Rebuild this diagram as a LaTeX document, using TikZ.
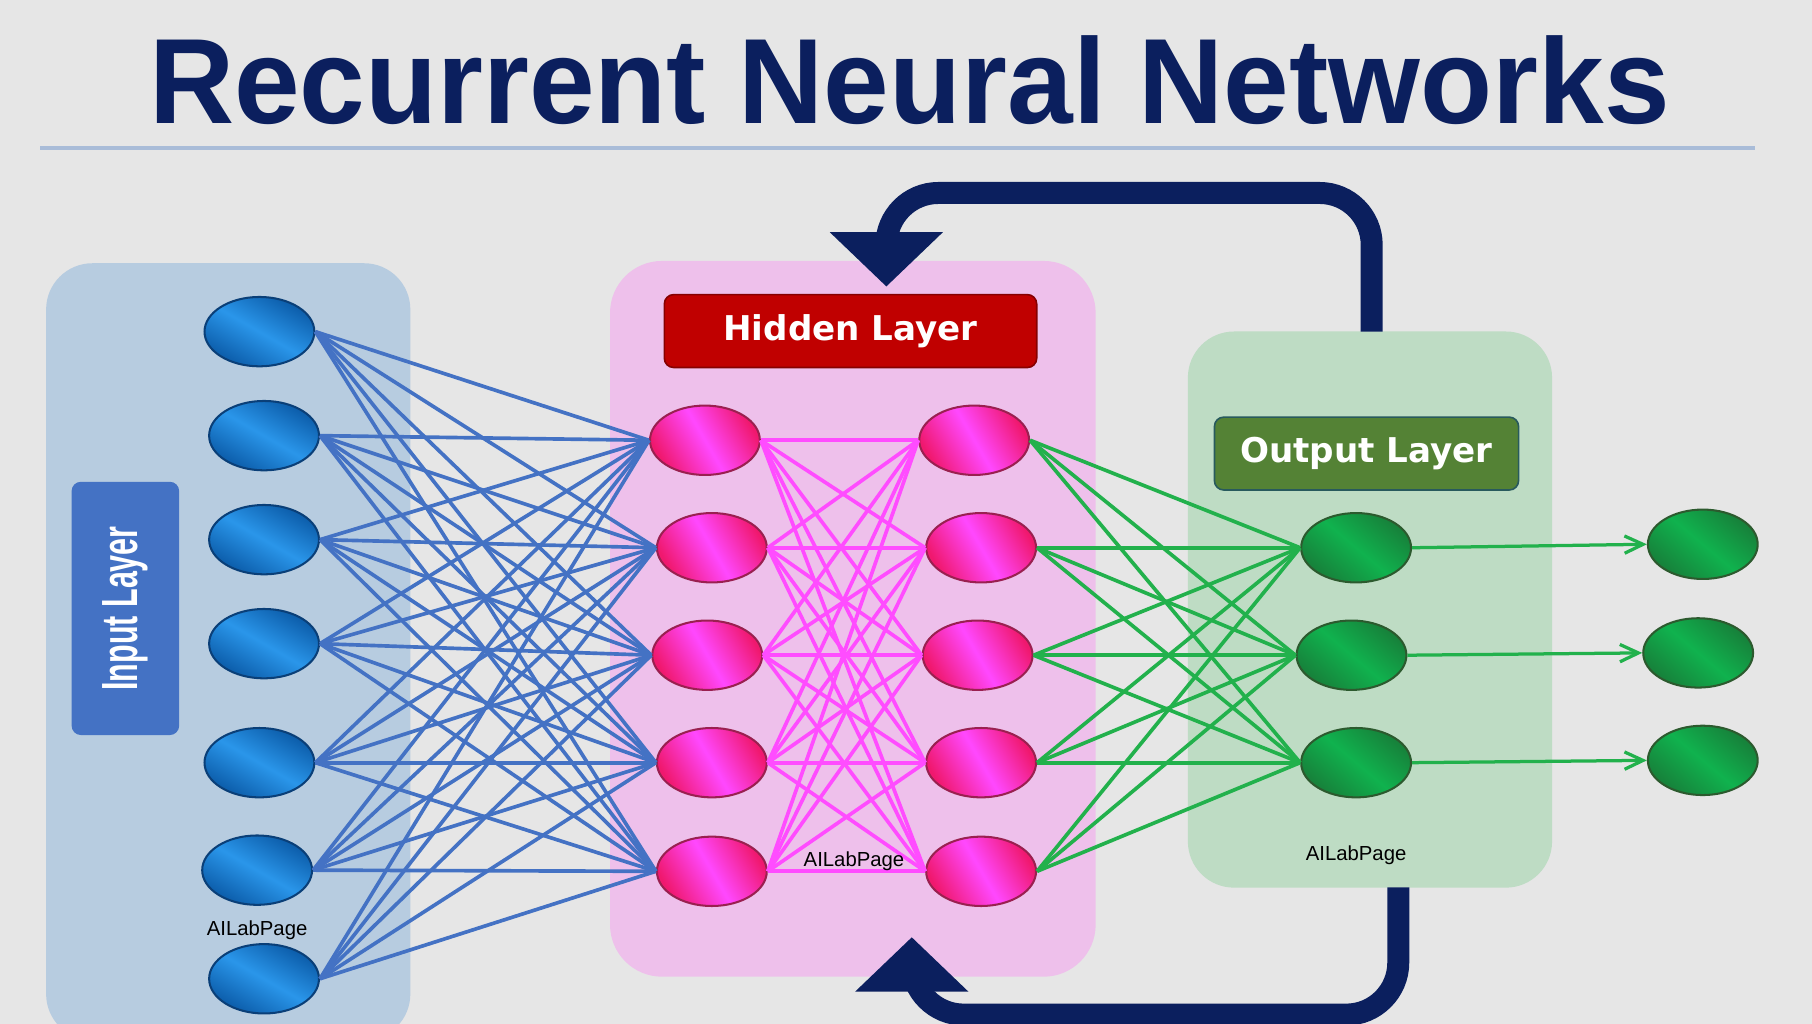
\documentclass[tikz,border=0pt]{standalone}
\usepackage{fontspec}
\setmainfont{Liberation Sans}
\newfontfamily\boxfont{DejaVu Sans}
\usetikzlibrary{arrows.meta,positioning,calc,shapes.geometric}
\definecolor{bgcol}{HTML}{E6E6E6}
\definecolor{navy}{HTML}{0B1F5E}
\definecolor{rulecol}{HTML}{A9BCD8}
\definecolor{inpanelcol}{HTML}{B7CCE0}
\definecolor{hidpanelcol}{HTML}{EEC0EB}
\definecolor{outpanelcol}{HTML}{BEDCC4}
\definecolor{inlabcol}{HTML}{4472C4}
\definecolor{hidlabcol}{HTML}{C00000}
\definecolor{outlabcol}{HTML}{548235}
\definecolor{bluewire}{HTML}{4472C4}
\definecolor{pinkwire}{HTML}{FF4CFF}
\definecolor{greenwire}{HTML}{22B14C}
\definecolor{blueDk}{HTML}{0B5BA8}
\definecolor{blueLt}{HTML}{2A96EA}
\definecolor{blueEdge}{HTML}{0A3F78}
\definecolor{pinkDk}{HTML}{F0186E}
\definecolor{pinkLt}{HTML}{FF48FF}
\definecolor{pinkEdge}{HTML}{9A2050}
\definecolor{greenDk}{HTML}{17803A}
\definecolor{greenLt}{HTML}{10B24E}
\definecolor{greenEdge}{HTML}{2C5A2E}

\begin{document}
\begin{tikzpicture}[
  x=0.01cm, y=-0.01cm,
  ball/.style={ellipse,minimum width=0.95cm,minimum height=0.6cm,inner sep=0pt,line width=0.5pt},
  inball/.style={ball,draw=blueEdge,top color=blueDk,bottom color=blueDk,middle color=blueLt,shading angle=-30},
  hidball/.style={ball,draw=pinkEdge,top color=pinkDk,bottom color=pinkDk,middle color=pinkLt,shading angle=-60},
  outball/.style={ball,draw=greenEdge,top color=greenDk,bottom color=greenDk,middle color=greenLt,shading angle=-40},
  panel/.style={rounded corners=0.4cm,inner sep=0pt},
  labbox/.style={rounded corners=0.08cm,text=white,inner sep=0pt},
  wire/.style={line width=0.9pt},
  fb/.style={draw=navy,line width=0.19cm,rounded corners=0.45cm,-{Triangle[width=0.95cm,length=0.47cm]}},
  outarr/.style={draw=greenwire,line width=0.8pt,-{Straight Barb[length=0.16cm,width=0.15cm]}},
  wm/.style={font=\fontsize{5}{6}\selectfont,text=black,inner sep=0pt}
]
  \clip (0,0) rectangle (1568,886);
  \fill[bgcol] (0,0) rectangle (1568,886);

  \node[text=navy,anchor=base,inner sep=0pt] (title) at (787,107)
    {\resizebox{13.15cm}{0.76cm}{\bfseries Recurrent Neural Networks}};
  \draw[rulecol,line width=1pt] (35,128) -- (1519,128);

  % layer panels
  \node[panel,fill=inpanelcol,minimum width=3.15cm,minimum height=6.72cm] (inpanel) at (197.5,564) {};
  \node[panel,rounded corners=0.45cm,fill=hidpanelcol,minimum width=4.2cm,minimum height=6.19cm] (hidpanel) at (738,535.5) {};
  \node[panel,fill=outpanelcol,minimum width=3.15cm,minimum height=4.81cm] (outpanel) at (1185.5,527.5) {};

  % recurrent loops
  \coordinate (fbout1) at (1187,287);
  \coordinate (fbin1) at (767,248);
  \coordinate (fbout2) at (1210,768);
  \coordinate (fbin2) at (789,811);
  \draw[fb] (fbout1) -- ++(0,-120) -| (fbin1);
  \draw[fb] (fbout2) -- ++(0,110) -| (fbin2);

  \node[labbox,fill=inlabcol,rotate=90,minimum width=2.19cm,minimum height=0.93cm,
        font=\bfseries\fontsize{12.5}{14}\selectfont] (inlab) at (108.5,526.5) {\scalebox{0.6}[1]{Input Layer}};
  \node[labbox,fill=hidlabcol,draw=hidlabcol!70!black,minimum width=3.22cm,minimum height=0.63cm,
        font=\boxfont\bfseries\fontsize{8.4}{10}\selectfont] (hidlab) at (736,286.5) {Hidden Layer};
  \node[labbox,fill=outlabcol,draw=blueEdge!60!outlabcol,minimum width=2.63cm,minimum height=0.63cm,
        font=\boxfont\bfseries\fontsize{8.4}{10}\selectfont] (outlab) at (1182.5,392.5) {Output Layer};

  % neurons
  \foreach \x/\y [count=\i] in {224.5/287,228.5/377,228.5/467,228.5/557,224.5/660,222.5/753,228.5/847}
    \node[inball] (in\i) at (\x,\y) {};
  \foreach \x/\y [count=\i] in {610/381,616/474,612/567,616/660,616/754}
    \node[hidball] (hl\i) at (\x,\y) {};
  \foreach \x/\y [count=\i] in {843/381,849/474,846/567,849/660,849/754}
    \node[hidball] (hr\i) at (\x,\y) {};
  \foreach \x/\y [count=\i] in {1173.5/474,1169.5/567,1173.5/660}
    \node[outball] (out\i) at (\x,\y) {};
  \foreach \x/\y [count=\i] in {1473.5/471,1469.5/565,1473.5/658}
    \node[outball] (fin\i) at (\x,\y) {};

  % weights
  \foreach \i in {1,...,7} \foreach \j in {1,...,5}
    \draw[wire,bluewire] (in\i.east) -- (hl\j.west);
  \foreach \i in {1,...,5} \foreach \j in {1,...,5}
    \draw[wire,pinkwire] (hl\i.east) -- (hr\j.west);
  \foreach \i in {1,...,5} \foreach \j in {1,2,3}
    \draw[wire,greenwire] (hr\i.east) -- (out\j.west);
  \foreach \i in {1,2,3}
    \draw[outarr] (out\i.east) -- (fin\i.west);

  \node[wm,below=0.12cm of in6] (wm1) {AILabPage};
  \node[wm] (wm2) at ($(hl5)!0.5!(hr5)+(6.5,-9)$) {AILabPage};
  \node[wm,below=0.4cm of out3] (wm3) {AILabPage};
\end{tikzpicture}
\end{document}
